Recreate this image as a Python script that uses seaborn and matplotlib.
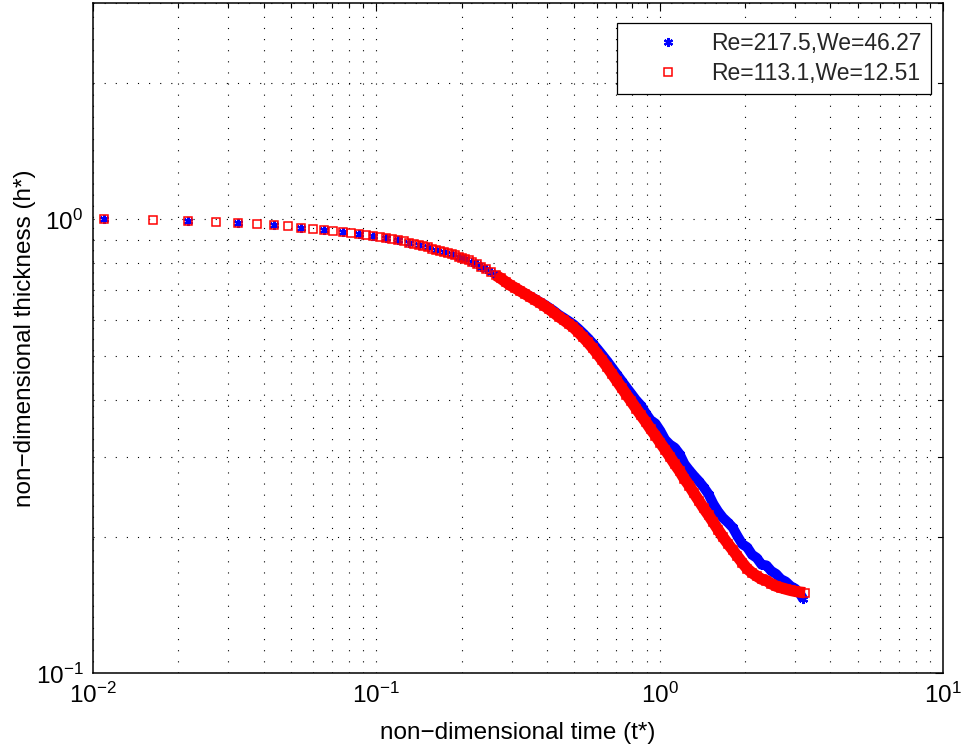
import matplotlib
matplotlib.use("Agg")
import matplotlib.pyplot as plt
import seaborn as sns
from matplotlib.ticker import LogLocator, NullFormatter, LogFormatterSciNotation

# ---------------- data ----------------
# early samples (every sample of the Re=113.1 run; Re=217.5 has every 2nd one)
t_early = [0.0109, 0.0163, 0.0217, 0.0272, 0.0326, 0.0380, 0.0434, 0.0489, 0.0543, 0.0597,
           0.0652, 0.0706, 0.0760, 0.0815, 0.0869, 0.0923, 0.0977, 0.1032, 0.1086, 0.1140,
           0.1195, 0.1249, 0.1303, 0.1358, 0.1412, 0.1466, 0.1520, 0.1575, 0.1629, 0.1683,
           0.1738, 0.1792, 0.1846, 0.1901, 0.1955, 0.2009, 0.2063, 0.2118, 0.2172]
h_early = [1.003, 0.997, 0.992, 0.987, 0.982, 0.976, 0.971, 0.965, 0.959, 0.953,
           0.947, 0.942, 0.937, 0.932, 0.927, 0.922, 0.917, 0.913, 0.908, 0.904,
           0.899, 0.894, 0.888, 0.882, 0.877, 0.872, 0.867, 0.861, 0.857, 0.853,
           0.848, 0.843, 0.838, 0.833, 0.828, 0.822, 0.817, 0.812, 0.807]

# dense part, Re=113.1, We=12.51 (red squares)
t_red_tail = [0.226, 0.235, 0.244, 0.254, 0.264, 0.275, 0.286, 0.297, 0.309, 0.322,
              0.335, 0.348, 0.362, 0.377, 0.392, 0.407, 0.424, 0.441, 0.458, 0.477,
              0.496, 0.516, 0.536, 0.558, 0.580, 0.603, 0.627, 0.652, 0.679, 0.706,
              0.734, 0.763, 0.794, 0.826, 0.859, 0.893, 0.929, 0.966, 1.005, 1.045,
              1.087, 1.130, 1.176, 1.223, 1.272, 1.323, 1.375, 1.430, 1.488, 1.547,
              1.609, 1.673, 1.740, 1.810, 1.882, 1.958, 2.036, 2.118, 2.202, 2.290,
              2.382, 2.477, 2.576, 2.679, 2.786, 2.898, 3.014, 3.134, 3.260]
h_red_tail = [0.797, 0.787, 0.776, 0.765, 0.753, 0.741, 0.728, 0.716, 0.706, 0.695,
              0.685, 0.675, 0.665, 0.655, 0.645, 0.634, 0.622, 0.610, 0.600, 0.589,
              0.578, 0.5643, 0.5506, 0.5358, 0.5208, 0.5051, 0.4892, 0.4732, 0.4564, 0.4406,
              0.4255, 0.411, 0.397, 0.383, 0.370, 0.358, 0.345, 0.334, 0.322, 0.311,
              0.300, 0.289, 0.279, 0.268, 0.259, 0.249, 0.240, 0.231, 0.223, 0.215,
              0.207, 0.1995, 0.193, 0.187, 0.181, 0.1752, 0.170, 0.1665, 0.1637, 0.1612,
              0.160, 0.1575, 0.1556, 0.1544, 0.1533, 0.1523, 0.1515, 0.1509, 0.1505]

# dense part, Re=217.5, We=46.27 (blue asterisks)
t_blue_tail = [0.226, 0.235, 0.244, 0.254, 0.264, 0.275, 0.286, 0.297, 0.309, 0.322,
               0.335, 0.348, 0.362, 0.377, 0.392, 0.407, 0.424, 0.441, 0.458, 0.477,
               0.496, 0.516, 0.536, 0.558, 0.580, 0.603, 0.627, 0.652, 0.679, 0.706,
               0.734, 0.763, 0.794, 0.826, 0.859, 0.893, 0.929, 0.966, 1.005, 1.045,
               1.087, 1.130, 1.176, 1.223, 1.272, 1.323, 1.375, 1.430, 1.488, 1.547,
               1.609, 1.673, 1.740, 1.810, 1.882, 1.958, 2.036, 2.118, 2.202, 2.290,
               2.382, 2.477, 2.576, 2.679, 2.786, 2.898, 3.014, 3.134, 3.210]
h_blue_tail = [0.797, 0.787, 0.776, 0.765, 0.753, 0.741, 0.728, 0.716, 0.707, 0.696,
               0.686, 0.677, 0.668, 0.658, 0.649, 0.639, 0.628, 0.616, 0.607, 0.597,
               0.587, 0.5745, 0.5616, 0.5476, 0.5333, 0.5182, 0.5029, 0.4874, 0.4710, 0.4556,
               0.4408, 0.4266, 0.4129, 0.3995, 0.389, 0.374, 0.361, 0.355, 0.342, 0.327,
               0.319, 0.314, 0.304, 0.289, 0.280, 0.272, 0.265, 0.257, 0.248, 0.236,
               0.227, 0.220, 0.215, 0.2095, 0.2005, 0.1925, 0.1895, 0.1825, 0.1795, 0.1735,
               0.1728, 0.1680, 0.1655, 0.1612, 0.1592, 0.1556, 0.1535, 0.1495, 0.1458]

labels = ["Re=217.5,We=46.27", "Re=113.1,We=12.51"]
x_label = "non\u2212dimensional time (t*)"
y_label = "non\u2212dimensional thickness (h*)"

# ---------------- style ----------------
sns.set_theme(style="white")
plt.rcParams["font.family"] = ["Liberation Sans", "DejaVu Sans"]
plt.rcParams["mathtext.fontset"] = "custom"
plt.rcParams["mathtext.rm"] = "Liberation Sans"
plt.rcParams["mathtext.it"] = "Liberation Sans:italic"
plt.rcParams["mathtext.bf"] = "Liberation Sans:bold"

W, H = 966, 747
fig = plt.figure(figsize=(W / 100, H / 100), dpi=100)
fig.patch.set_facecolor("white")
ax = fig.add_axes([93 / W, (H - 673.3) / H, 850 / W, 670.6 / H])
ax.set_facecolor("white")
ax.set_xscale("log")
ax.set_yscale("log")

t_blue = t_early[::2] + t_blue_tail
h_blue = h_early[::2] + h_blue_tail
t_red = t_early + t_red_tail
h_red = h_early + h_red_tail
nb = len(t_early[::2]) + 4
nr = len(t_early) + 4

# blue series (plotted first)
sns.lineplot(x=t_blue[nb:], y=h_blue[nb:], ax=ax, color="blue", linewidth=7.2,
             estimator=None, sort=False, solid_capstyle="butt")
sns.lineplot(x=t_blue, y=h_blue, ax=ax, estimator=None, sort=False, linestyle="none",
             marker=(6, 2, 0), markersize=6.5, markeredgecolor="blue",
             markerfacecolor="blue", markeredgewidth=1.6)
blue_handle = ax.lines[-1]

sns.lineplot(x=t_red[nr:], y=h_red[nr:], ax=ax, color="red", linewidth=8.2,
             estimator=None, sort=False, solid_capstyle="butt")
sns.lineplot(x=t_red, y=h_red, ax=ax, estimator=None, sort=False, linestyle="none",
             marker="s", markersize=5.8, markeredgecolor="red",
             markerfacecolor="none", markeredgewidth=1.1)
red_handle = ax.lines[-1]

ax.set_xlim(0.01, 10)
ax.set_ylim(0.1, 3.0)

for axis in (ax.xaxis, ax.yaxis):
    axis.set_major_locator(LogLocator(base=10, numticks=10))
    axis.set_minor_locator(LogLocator(base=10, subs=range(2, 10), numticks=20))
    axis.set_major_formatter(LogFormatterSciNotation())
    axis.set_minor_formatter(NullFormatter())

ax.grid(which="both", color="black", linestyle=(0, (1, 9)), linewidth=0.8)
ax.tick_params(which="both", direction="in", top=True, right=True, color="black",
               labelsize=17.5, labelcolor="black")
ax.tick_params(which="major", length=6, width=0.8, pad=7)
ax.tick_params(which="minor", length=3.5, width=0.8)
for sp in ax.spines.values():
    sp.set_color("black")
    sp.set_linewidth(1.1)
    sp.set_visible(True)

ax.set_xlabel(x_label, fontsize=17.5, color="black", labelpad=10)
ax.set_ylabel(y_label, fontsize=17.5, color="black", labelpad=0)

leg = ax.legend([blue_handle, red_handle], labels, loc="upper right",
                bbox_to_anchor=(930.7 / W, 1 - 23.3 / H), bbox_transform=fig.transFigure,
                borderaxespad=0, fontsize=16.5, frameon=True, fancybox=False,
                framealpha=1, edgecolor="black", borderpad=0.4, labelspacing=0.28,
                handlelength=3.6, handletextpad=0.1, numpoints=1)
leg.get_frame().set_linewidth(0.9)

fig.savefig("out.png", dpi=100, facecolor="white")
